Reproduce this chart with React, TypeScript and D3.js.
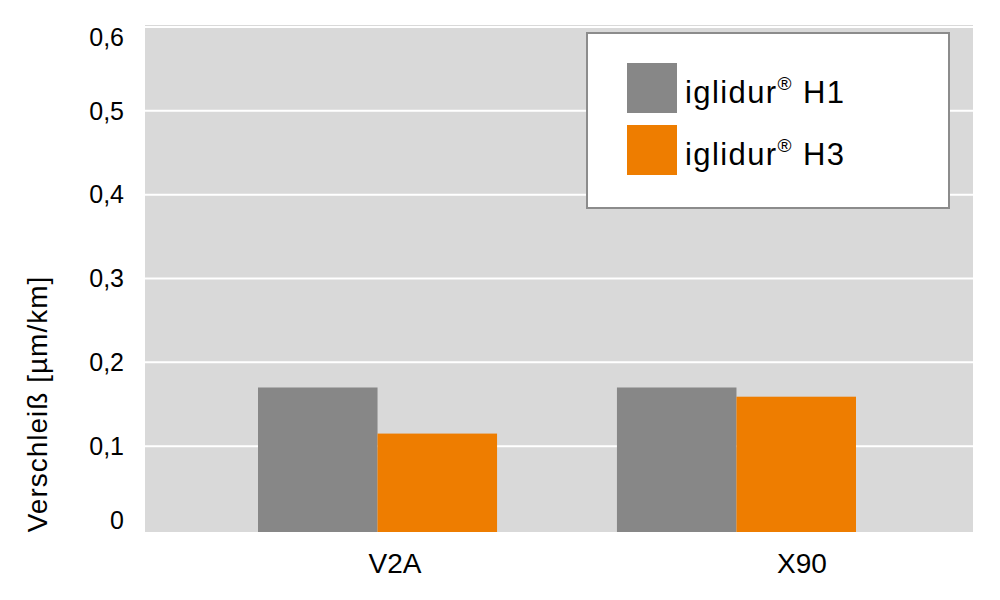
import React from "react";
import * as d3 from "d3";

const categories = ["V2A", "X90"];
const seriesNames = ["iglidur® H1", "iglidur® H3"];
const h1Values = [0.17, 0.17];
const h3Values = [0.115, 0.159];
const yTicks = [0, 0.1, 0.2, 0.3, 0.4, 0.5, 0.6];
const yTickLabels = ["0", "0,1", "0,2", "0,3", "0,4", "0,5", "0,6"];
const yTitle = "Verschleiß [µm/km]";

const COLORS = ["#878787", "#ee7d00"];
const FONT = "'Liberation Sans', Arial, Helvetica, sans-serif";

export default function App() {
  const W = 1000, H = 600;
  const plot = { left: 145, right: 973, top: 25, bottom: 532 };
  const y = d3.scaleLinear().domain([0, 0.6]).range([530, 27]);
  const x0 = d3.scaleBand<string>().domain(categories).range([258, 856]).paddingInner(0.334).paddingOuter(0);
  const x1 = d3.scaleBand<number>().domain([0, 1]).range([0, x0.bandwidth()]);
  const xLabel = d3.scalePoint<string>().domain(categories).range([395, 802]);
  const series = [h1Values, h3Values];

  return (
    <svg width={W} height={H} style={{ position: "absolute", left: 0, top: 0, background: "#fff" }} fontFamily={FONT}>
      <rect x={plot.left} y={plot.top} width={plot.right - plot.left} height={plot.bottom - plot.top} fill="#d9d9d9" />
      {yTicks.slice(1).map((t) => (
        <line key={t} x1={plot.left} x2={plot.right} y1={y(t)} y2={y(t)} stroke="#fff" strokeWidth={2} />
      ))}
      {categories.map((c, ci) =>
        series.map((s, si) => (
          <rect
            key={c + si}
            x={(x0(c) ?? 0) + (x1(si) ?? 0)}
            y={y(s[ci])}
            width={x1.bandwidth()}
            height={plot.bottom - y(s[ci])}
            fill={COLORS[si]}
          />
        ))
      )}
      {yTicks.map((t, i) => (
        <text key={t} x={124} y={Math.min(Math.max(y(t), 37), 520)} dy="0.35em" textAnchor="end" fontSize={25} fill="#000">
          {yTickLabels[i]}
        </text>
      ))}
      {categories.map((c) => (
        <text key={c} x={xLabel(c) ?? 0} y={573} textAnchor="middle" fontSize={28} fill="#000">
          {c}
        </text>
      ))}
      <text transform="translate(47,404) rotate(-90)" textAnchor="middle" fontSize={28} letterSpacing={1} fill="#000">
        {yTitle}
      </text>
      <g>
        <rect x={587} y={33} width={362} height={175} fill="#fff" stroke="#8c8c8c" strokeWidth={2} />
        {seriesNames.map((n, i) => {
          const [base, suffix] = n.split("® ");
          return (
            <g key={n} transform={`translate(627,${63 + i * 62})`}>
              <rect width={50} height={50} fill={COLORS[i]} />
              <text x={58} y={40} fontSize={31} letterSpacing={1.4} fill="#000">
                {base}
                <tspan fontSize={19} dy={-13}>®</tspan>
                <tspan dy={13}>{" " + suffix}</tspan>
              </text>
            </g>
          );
        })}
      </g>
    </svg>
  );
}
